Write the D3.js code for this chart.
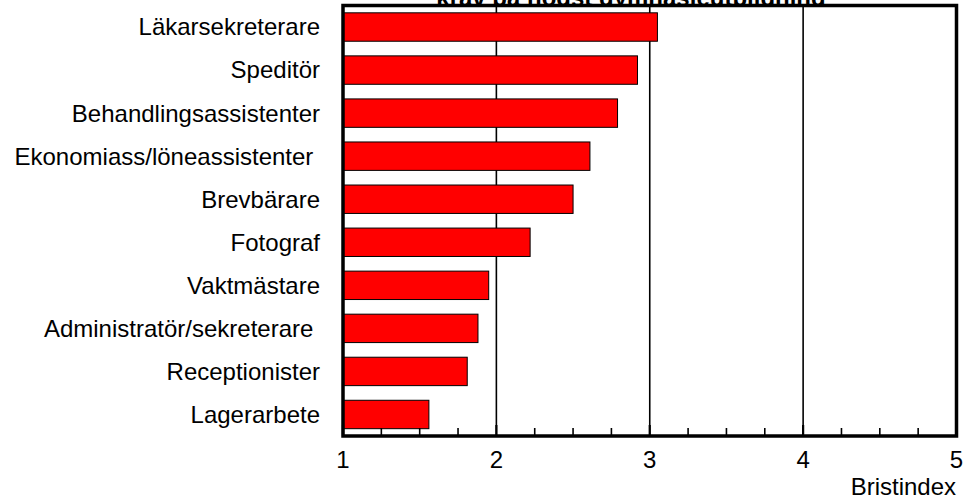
<!DOCTYPE html>
<html>
<head>
<meta charset="utf-8">
<script src="https://cdn.jsdelivr.net/npm/d3@7"></script>
<style>
  body { margin: 0; background: #fff; }
  text { font-family: Arial, "Liberation Sans", sans-serif; }
</style>
</head>
<body>
<div id="chart"></div>
<script>
// yrken och bristindex
const yrken = [
    'Läkarsekreterare',
    'Speditör',
    'Behandlingsassistenter',
    'Ekonomiass/löneassistenter ',
    'Brevbärare',
    'Fotograf',
    'Vaktmästare',
    'Administratör/sekreterare ',
    'Receptionister',
    'Lagerarbete'
];
const bristindex = [3.05, 2.92, 2.79, 2.61, 2.50, 2.22, 1.95, 1.88, 1.81, 1.56];
const xTicks = [1, 2, 3, 4, 5];
const titel = 'krav på högst gymnasieutbildning';
const axelTitel = 'Bristindex';

const width = 967, height = 504;
const m = { left: 343, right: 956.5, top: 5.5, bottom: 436 };

const svg = d3.select('#chart').append('svg')
    .attr('width', width)
    .attr('height', height);

const x = d3.scaleLinear().domain([1, 5]).range([m.left, m.right]);
const y = d3.scaleBand().domain(yrken).range([m.top, m.bottom])
    .paddingInner(0.34).paddingOuter(0.17);

// titel (till stor del bakom diagramytan)
svg.append('text')
    .attr('x', 631)
    .attr('y', 6)
    .attr('text-anchor', 'middle')
    .attr('font-size', 24)
    .attr('font-weight', 'bold')
    .text(titel);

// vit diagramyta
svg.append('rect')
    .attr('x', m.left).attr('y', m.top)
    .attr('width', m.right - m.left).attr('height', m.bottom - m.top)
    .attr('fill', '#fff');

// stödlinjer
svg.selectAll('line.grid')
    .data(xTicks.slice(1, -1))
    .enter()
    .append('line')
    .attr('class', 'grid')
    .attr('x1', d => x(d)).attr('x2', d => x(d))
    .attr('y1', m.top).attr('y2', m.bottom)
    .attr('stroke', '#000')
    .attr('stroke-width', 1.6);

// staplar
svg.selectAll('rect.bar')
    .data(yrken)
    .enter()
    .append('rect')
    .attr('class', 'bar')
    .attr('x', x(1))
    .attr('y', d => y(d))
    .attr('width', (d, i) => x(bristindex[i]) - x(1))
    .attr('height', y.bandwidth())
    .attr('fill', '#ff0000')
    .attr('stroke', '#000')
    .attr('stroke-width', 1);

// små streck längs x-axeln
const minor = d3.range(1, 5.001, 0.25);
svg.selectAll('line.minor')
    .data(minor)
    .enter()
    .append('line')
    .attr('class', 'minor')
    .attr('x1', d => x(d)).attr('x2', d => x(d))
    .attr('y1', m.bottom).attr('y2', d => Number.isInteger(d) ? m.bottom - 11 : m.bottom - 8)
    .attr('stroke', '#000')
    .attr('stroke-width', d => Number.isInteger(d) ? 2.2 : 1.6);

// ram
svg.append('rect')
    .attr('x', m.left).attr('y', m.top)
    .attr('width', m.right - m.left).attr('height', m.bottom - m.top)
    .attr('fill', 'none')
    .attr('stroke', '#000')
    .attr('stroke-width', 3.5);

// kategorietiketter
svg.selectAll('text.cat')
    .data(yrken)
    .enter()
    .append('text')
    .attr('class', 'cat')
    .attr('x', 320)
    .attr('y', d => y(d) + y.bandwidth() / 2)
    .attr('dy', '0.35em')
    .attr('text-anchor', 'end')
    .attr('font-size', 24)
    .style('white-space', 'pre')
    .text(d => d);

// x-axelns etiketter
svg.selectAll('text.tick')
    .data(xTicks)
    .enter()
    .append('text')
    .attr('class', 'tick')
    .attr('x', d => x(d))
    .attr('y', 468)
    .attr('text-anchor', 'middle')
    .attr('font-size', 24)
    .text(d => d);

svg.append('text')
    .attr('x', 956)
    .attr('y', 495)
    .attr('text-anchor', 'end')
    .attr('font-size', 24)
    .text(axelTitel);
</script>
</body>
</html>
